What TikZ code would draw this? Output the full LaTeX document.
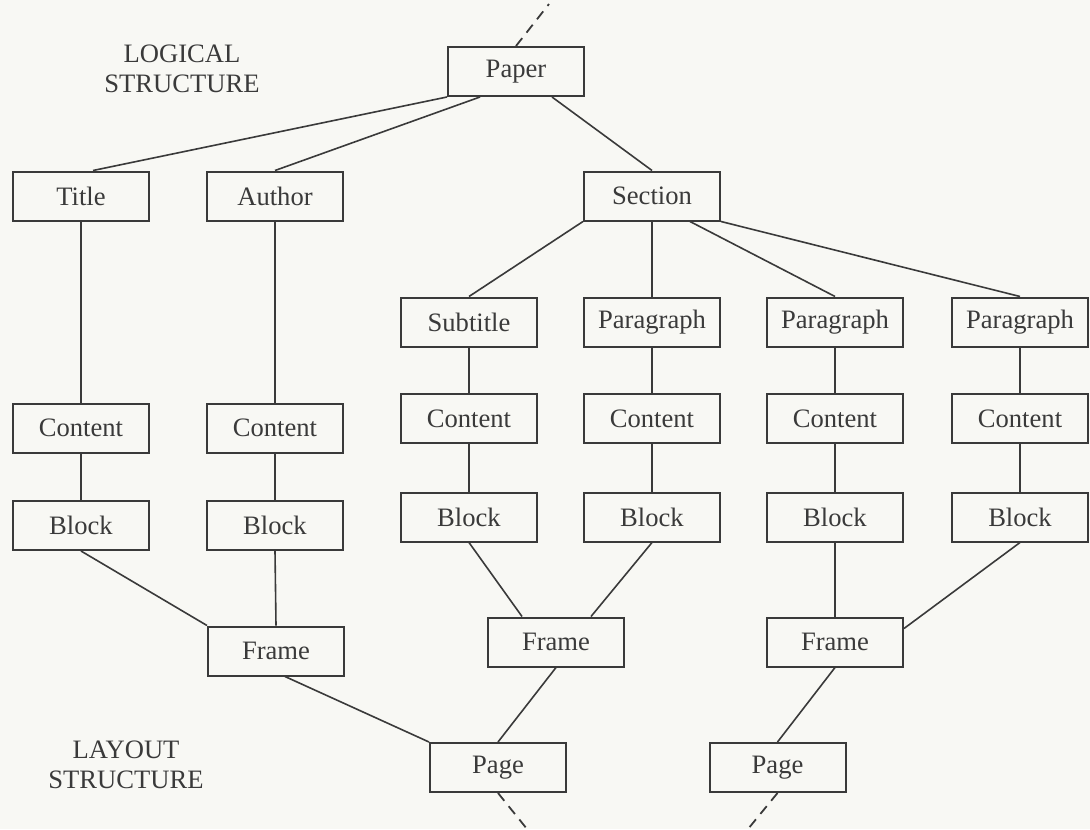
\documentclass[tikz,border=0pt]{standalone}
\usepackage{fontspec}
\setmainfont{Liberation Serif}
\definecolor{inkc}{HTML}{3A3A3A}
\definecolor{paperc}{HTML}{F8F8F4}
\begin{document}
\begin{tikzpicture}[x=0.5pt,y=-0.5pt,
  box/.style={draw=inkc, line width=1pt, minimum width=68pt, minimum height=24.5pt,
    inner sep=0pt, font=\fontsize{13.3}{16}\selectfont, text=inkc},
  link/.style={draw=inkc, line width=0.8pt},
  cut/.style={draw=inkc, line width=0.9pt, dash pattern=on 5pt off 3.5pt},
  caption/.style={align=center, font=\fontsize{13.3}{15}\selectfont, text=inkc}]
\fill[paperc] (0,0) rectangle (1090,829);
\useasboundingbox (0,0) rectangle (1090,829);

% side captions
\node[caption] (logical) at (182,69) {LOGICAL\\STRUCTURE};
\node[caption] (layout) at (126,765) {LAYOUT\\STRUCTURE};

% logical structure
\node[box] (paper) at (516,71.5) {Paper};
\node[box] (title) at (81,196) {Title};
\node[box] (author) at (275,196) {Author};
\node[box] (section) at (652,196) {Section};
\node[box] (subtitle) at (469,322) {Subtitle};
\node[box] (para1) at (652,322) {Paragraph};
\node[box] (para2) at (835,322) {Paragraph};
\node[box] (para3) at (1020,322) {Paragraph};

% contents
\node[box] (contT) at (81,428) {Content};
\node[box] (contA) at (275,428) {Content};
\node[box] (contS) at (469,418.5) {Content};
\node[box] (contP1) at (652,418.5) {Content};
\node[box] (contP2) at (835,418.5) {Content};
\node[box] (contP3) at (1020,418.5) {Content};

% layout structure
\node[box] (blockT) at (81,525.5) {Block};
\node[box] (blockA) at (275,525.5) {Block};
\node[box] (blockS) at (469,517) {Block};
\node[box] (blockP1) at (652,517) {Block};
\node[box] (blockP2) at (835,517) {Block};
\node[box] (blockP3) at (1020,517) {Block};
\node[box] (frameL) at (276,651) {Frame};
\node[box] (frameM) at (556,642) {Frame};
\node[box] (frameR) at (835,642) {Frame};
\node[box] (pageL) at (498,767.5) {Page};
\node[box] (pageR) at (777.5,767.5) {Page};

% free ends of the cut lines
\coordinate (topend) at (549,4);
\coordinate (botendL) at (527,829);
\coordinate (botendR) at (748,829);

% logical tree
\draw[link] (paper.south west) -- ([xshift=6pt]title.north);
\draw[link] ([xshift=-18pt]paper.south) -- (author.north);
\draw[link] ([xshift=18pt]paper.south) -- (section.north);
\draw[link] (section.south west) -- (subtitle.north);
\draw[link] (section.south) -- (para1.north);
\draw[link] ([xshift=19pt]section.south) -- (para2.north);
\draw[link] (section.south east) -- (para3.north);

% logical objects to their contents and blocks
\draw[link] (title) -- (contT);
\draw[link] (author) -- (contA);
\draw[link] (subtitle) -- (contS);
\draw[link] (para1) -- (contP1);
\draw[link] (para2) -- (contP2);
\draw[link] (para3) -- (contP3);
\draw[link] (contT) -- (blockT);
\draw[link] (contA) -- (blockA);
\draw[link] (contS) -- (blockS);
\draw[link] (contP1) -- (blockP1);
\draw[link] (contP2) -- (blockP2);
\draw[link] (contP3) -- (blockP3);

% layout tree
\draw[link] (blockT.south) -- (frameL.north west);
\draw[link] (blockA.south) -- (frameL.north);
\draw[link] (blockS.south) -- ([xshift=-17pt]frameM.north);
\draw[link] (blockP1.south) -- ([xshift=17.5pt]frameM.north);
\draw[link] (blockP2.south) -- (frameR.north);
\draw[link] (blockP3.south) -- ([yshift=-6pt]frameR.north east);
\draw[link] ([xshift=4.5pt]frameL.south) -- (pageL.north west);
\draw[link] (frameM.south) -- (pageL.north);
\draw[link] (frameR.south) -- (pageR.north);

% dashed continuation lines
\draw[cut] (paper.north) -- (topend);
\draw[cut] (pageL.south) -- (botendL);
\draw[cut] (pageR.south) -- (botendR);
\end{tikzpicture}
\end{document}
